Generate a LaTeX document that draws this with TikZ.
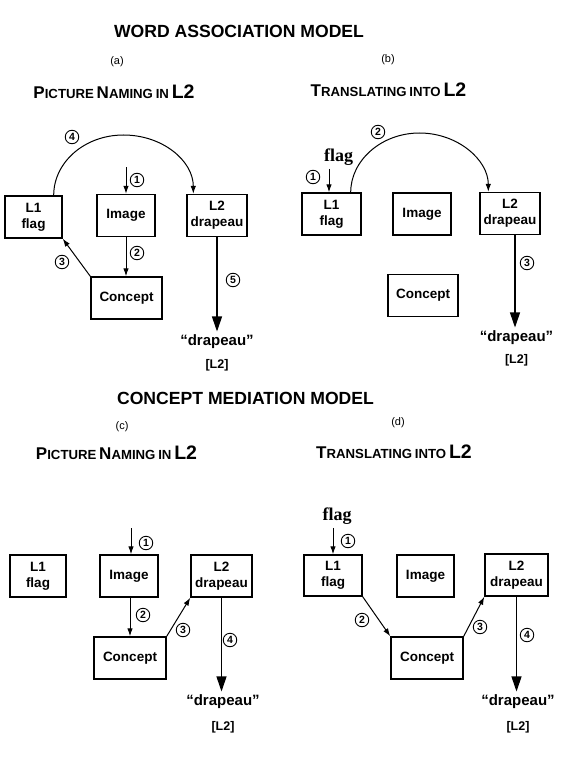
\documentclass[tikz,border=0pt]{standalone}
\usepackage{fontspec}
\setmainfont{Liberation Sans}
\newfontfamily\serifflag{Liberation Serif}
\usetikzlibrary{arrows.meta,calc}
\newcommand\scbig[1]{{\fontsize{17}{17}\selectfont #1}}
\newcommand\scsmall[1]{{\fontsize{13.2}{13}\selectfont #1}}
\newcommand\sclarge[1]{{\fontsize{19.5}{19}\selectfont #1}}
\tikzset{
 box/.style={draw, line width=1.4pt, font=\fontsize{13.5}{16}\selectfont\bfseries, align=center, inner sep=0pt, minimum height=42pt},
 numc/.style={circle, draw, line width=0.9pt, minimum size=13.5pt, inner sep=0pt, font=\fontsize{10.5}{11}\selectfont\bfseries},
 arr/.style={line width=1pt, -{Latex[length=8pt,width=5.5pt]}},
 bigarr/.style={line width=1.1pt, -{Triangle[length=15pt,width=10pt]}},
 mytitle/.style={font=\fontsize{17.6}{19}\selectfont\bfseries},
 letterl/.style={font=\fontsize{11}{12}\selectfont},
 scl/.style={font=\bfseries},
 outword/.style={font=\fontsize{15}{16}\selectfont\bfseries},
 outlang/.style={font=\fontsize{12.5}{13}\selectfont\bfseries},
 inword/.style={font=\serifflag\fontsize{18}{18}\selectfont\bfseries},
}
\begin{document}
\begin{tikzpicture}[x=1pt,y=1pt]
\useasboundingbox (0,0) rectangle (561,-765);
% ---------- titles ----------
\node[mytitle] (t1) at (239,-31) {WORD ASSOCIATION MODEL};
\node[letterl] (la) at (117,-62) {(a)};
\node[letterl] (lb) at (388,-60) {(b)};
\node[scl] (pa) at (114,-92) {\scbig{P}\scsmall{ICTURE} \scbig{N}\scsmall{AMING} \scsmall{IN} \sclarge{L2}};
\node[scl] (pb) at (388.5,-90) {\scbig{T}\scsmall{RANSLATING} \scsmall{INTO} \sclarge{L2}};
\node[mytitle] (t2) at (245.5,-398) {CONCEPT MEDIATION MODEL};
\node[letterl] (lc) at (122,-427) {(c)};
\node[letterl] (ld) at (398,-423) {(d)};
\node[scl] (pc) at (116.5,-453) {\scbig{P}\scsmall{ICTURE} \scbig{N}\scsmall{AMING} \scsmall{IN} \sclarge{L2}};
\node[scl] (pd) at (394,-452) {\scbig{T}\scsmall{RANSLATING} \scsmall{INTO} \sclarge{L2}};

% ---------- panel (a) ----------
\node[box, minimum width=57pt] (L1a) at (33.5,-217) {L1\\flag};
\node[box, minimum width=58pt] (Ima) at (126,-215.5) {Image};
\node[box, minimum width=60pt] (L2a) at (217,-215.5) {L2\\drapeau};
\node[box, minimum width=71pt] (Coa) at (126.5,-298) {Concept};
\coordinate (ina) at (126,-167);
\draw[arr] (ina) -- (Ima.north);
\node[numc] (n1a) at (137,-180) {1};
\draw[arr] (Ima.south) -- (Ima.south |- Coa.north);
\node[numc] (n2a) at (137,-253) {2};
\draw[arr] (Coa.north west) -- (L1a.south east);
\node[numc] (n3a) at (62,-262) {3};
\coordinate (topa) at (123.5,-135);
\draw[arr] ([xshift=-9pt]L1a.north east) .. controls +(0,33) and +(-39,0) .. (topa)
  .. controls +(39,0) and +(0,33) .. ([xshift=7pt]L2a.north west);
\node[numc] (n4a) at (72,-137) {4};
\node[outword] (dra) at (217,-342) {``drapeau''};
\node[outlang] (l2a) at (217,-365) {[L2]};
\draw[bigarr] (L2a.south) -- (L2a.south |- dra.north);
\node[numc] (n5a) at (233,-280) {5};

% ---------- panel (b) ----------
\node[box, minimum width=59pt] (L1b) at (331.5,-214) {L1\\flag};
\node[box, minimum width=58pt] (Imb) at (422,-214) {Image};
\node[box, minimum width=60pt] (L2b) at (510,-213.5) {L2\\drapeau};
\node[box, minimum width=70pt] (Cob) at (423,-295.5) {Concept};
\node[inword] (flagb) at (338.5,-157) {flag};
\draw[arr] ([xshift=-2.5pt]L1b.north |- flagb.south) -- ([xshift=-2.5pt]L1b.north);
\node[numc] (n1b) at (313,-177) {1};
\coordinate (topb) at (419.5,-133);
\draw[arr] ([xshift=-11pt]L1b.north east) .. controls +(0,32) and +(-38,0) .. (topb)
  .. controls +(38,0) and +(0,32) .. ([xshift=9pt]L2b.north west);
\node[numc] (n2b) at (378,-132) {2};
\node[outword] (drb) at (516.5,-338) {``drapeau''};
\node[outlang] (l2b) at (516.5,-360) {[L2]};
\draw[bigarr] ([xshift=5pt]L2b.south) -- ([xshift=5pt]L2b.south |- drb.north);
\node[numc] (n3b) at (527,-263) {3};

% ---------- panel (c) ----------
\node[box, minimum width=56pt] (L1c) at (38,-576) {L1\\flag};
\node[box, minimum width=58pt] (Imc) at (129,-576) {Image};
\node[box, minimum width=61pt] (L2c) at (221.5,-576) {L2\\drapeau};
\node[box, minimum width=72pt] (Coc) at (130,-658) {Concept};
\coordinate (inc) at (131,-528);
\draw[arr] (inc) -- (inc |- Imc.north);
\node[numc] (n1c) at (146,-543) {1};
\draw[arr] ([xshift=1pt]Imc.south) -- ([xshift=1pt]Imc.south |- Coc.north);
\node[numc] (n2c) at (143,-615) {2};
\draw[arr] (Coc.north east) -- (L2c.south west);
\node[numc] (n3c) at (183,-630) {3};
\node[outword] (drc) at (223,-702) {``drapeau''};
\node[outlang] (l2c) at (223,-727) {[L2]};
\draw[bigarr] (L2c.south) -- (L2c.south |- drc.north);
\node[numc] (n4c) at (230,-640) {4};

% ---------- panel (d) ----------
\node[box, minimum width=58pt, minimum height=41pt] (L1d) at (333,-575.5) {L1\\flag};
\node[box, minimum width=57pt] (Imd) at (425.5,-576) {Image};
\node[box, minimum width=63pt] (L2d) at (516.5,-575) {L2\\drapeau};
\node[box, minimum width=72pt] (Cod) at (427,-658) {Concept};
\node[inword] (flagd) at (337,-516) {flag};
\draw[arr] (L1d.north |- flagd.south) -- (L1d.north);
\node[numc] (n1d) at (348,-541) {1};
\draw[arr] (L1d.south east) -- (Cod.north west);
\node[numc] (n2d) at (362,-620) {2};
\draw[arr] (Cod.north east) -- (L2d.south west);
\node[numc] (n3d) at (480,-627) {3};
\node[outword] (drd) at (518,-702) {``drapeau''};
\node[outlang] (l2d) at (518,-727) {[L2]};
\draw[bigarr] (L2d.south) -- (L2d.south |- drd.north);
\node[numc] (n4d) at (527,-635) {4};
\end{tikzpicture}
\end{document}
